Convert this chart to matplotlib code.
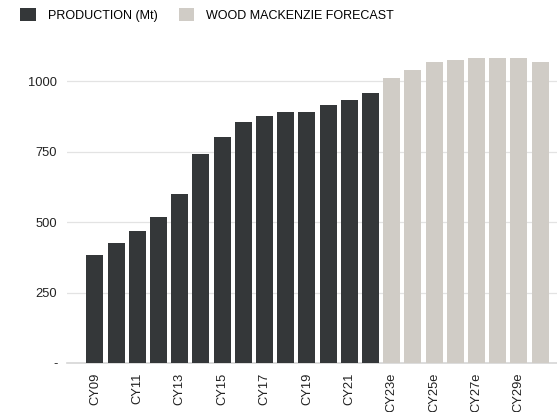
import matplotlib
matplotlib.use("Agg")
import matplotlib.pyplot as plt
from matplotlib.patches import Patch

# production (Mt), actuals then Wood Mackenzie forecast
actual_years = ["CY09", "CY10", "CY11", "CY12", "CY13", "CY14", "CY15",
                "CY16", "CY17", "CY18", "CY19", "CY20", "CY21", "CY22"]
actual_values = [385, 426, 470, 518, 600, 740, 802, 854, 875, 892, 892, 917, 934, 958]

forecast_years = ["CY23e", "CY24e", "CY25e", "CY26e", "CY27e", "CY28e", "CY29e", "CY30e"]
forecast_values = [1010, 1038, 1068, 1075, 1082, 1082, 1082, 1068]

y_ticks = [0, 250, 500, 750, 1000]
y_tick_labels = ["-", "250", "500", "750", "1000"]

dark = "#343739"
light = "#d0ccc6"

plt.rcParams["font.family"] = ["Liberation Sans", "DejaVu Sans"]

fig = plt.figure(figsize=(5.57, 4.12), dpi=100)
ax = fig.add_axes([67 / 557, 49 / 412, 490 / 557, 310 / 412])

all_years = actual_years + forecast_years
x_actual = list(range(len(actual_years)))
x_forecast = list(range(len(actual_years), len(all_years)))

ax.bar(x_actual, actual_values, width=0.8, color=dark, zorder=3)
ax.bar(x_forecast, forecast_values, width=0.8, color=light, zorder=3)

ax.set_xlim(-1.32, 21.8)
ax.set_ylim(0, 1100)

ax.set_yticks(y_ticks)
ax.set_yticklabels(y_tick_labels)
ax.yaxis.grid(True, color="#e3e3e3", linewidth=0.9, zorder=0)

# every other year on the x axis
ax.set_xticks(list(range(0, len(all_years), 2)))
ax.set_xticklabels(all_years[::2], rotation=90, va="top")

ax.tick_params(axis="both", length=0, labelsize=9.3, colors="#222222")
ax.tick_params(axis="x", pad=7)
ax.tick_params(axis="y", pad=7)

for side in ["top", "right", "left"]:
    ax.spines[side].set_visible(False)
ax.spines["bottom"].set_color("#d6d6d6")
ax.spines["bottom"].set_linewidth(1.2)

handles = [Patch(facecolor=dark, label="PRODUCTION (Mt)"),
           Patch(facecolor=light, label="WOOD MACKENZIE FORECAST")]
fig.legend(handles=handles, loc="center left", bbox_to_anchor=(20 / 557, 1 - 15 / 412),
           ncol=2, frameon=False, fontsize=9, handlelength=1.25, handleheight=1.25,
           handletextpad=0.95, columnspacing=1.7, borderaxespad=0, borderpad=0)

fig.savefig("out.png", dpi=100)
